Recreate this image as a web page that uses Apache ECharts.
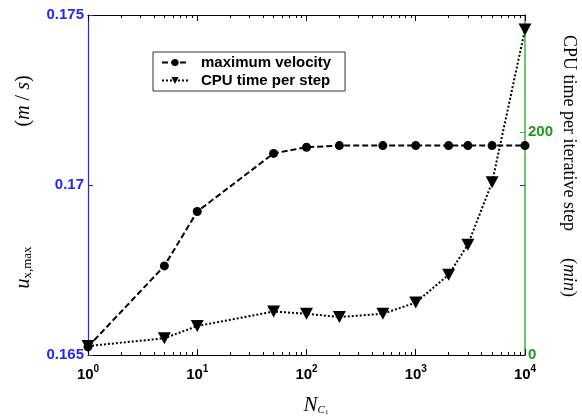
<!DOCTYPE html>
<html>
<head>
<meta charset="utf-8">
<script src="https://cdn.jsdelivr.net/npm/echarts@6/dist/echarts.min.js"></script>
<style>
  html, body { margin: 0; padding: 0; background: #fff; }
  #chart { width: 582px; height: 419px; }
</style>
</head>
<body>
<div id="chart"></div>
<script>
// Number of cells N_C1 (log scale)
const nCells = [1, 5, 10, 50, 100, 200, 500, 1000, 2000, 3000, 5000, 10000];
// Maximum streamwise velocity u_x,max (m/s)
const maxVelocity = [0.16524, 0.16762, 0.16922, 0.17093, 0.17111, 0.17116, 0.17116, 0.17116, 0.17116, 0.17116, 0.17116, 0.17116];
// CPU time per iterative step (min)
const cpuTime = [8, 15, 26, 39, 37, 34, 37, 47, 72, 99, 155, 292];

const decadeTicks = [1, 10, 100, 1000, 10000];
const minorLogTicks = [];
[1, 10, 100, 1000].forEach(function (d) {
  for (let k = 2; k <= 9; k++) minorLogTicks.push(k * d);
});
const leftTicks = [0.165, 0.17, 0.175];
const rightLabelTicks = [0, 200];

const blue = '#2424ff';
const green = '#3db23d';
const greenText = '#1e9a1e';
const serif = 'Liberation Serif, Times New Roman';
const sans = 'Arial, Liberation Sans';
const downTriangle = 'path://M0,0 L10,0 L5,9 Z';

const chart = echarts.init(document.getElementById('chart'), null, { renderer: 'canvas' });

function logAxis(position, ticks, len, showLabel, showLine) {
  return {
    type: 'log', logBase: 10, min: 1, max: 10000, position: position,
    axisLine: { show: showLine, onZero: false, lineStyle: { color: '#000', width: 1 } },
    axisTick: { show: true, inside: true, length: len, customValues: ticks, lineStyle: { color: '#000', width: 1 } },
    axisLabel: showLabel ? {
      show: true, margin: 9, customValues: decadeTicks,
      formatter: function (v) { return '{b|10}{s|' + Math.round(Math.log10(v)) + '}'; },
      rich: {
        b: { fontFamily: sans, fontWeight: 'bold', fontSize: 15, color: '#000', verticalAlign: 'bottom', lineHeight: 18 },
        s: { fontFamily: sans, fontWeight: 'bold', fontSize: 10, color: '#000', verticalAlign: 'top', lineHeight: 18, padding: [0, 0, 6, 0] }
      }
    } : { show: false },
    splitLine: { show: false }
  };
}

const option = {
  animation: false,
  backgroundColor: '#fff',
  grid: { left: 88, right: 57, top: 15, bottom: 64, containLabel: false },
  legend: {
    left: 153, top: 52, orient: 'vertical',
    itemWidth: 26, itemHeight: 9, itemGap: 3,
    padding: [3, 14, 3, 8],
    borderColor: '#333', borderWidth: 1,
    textStyle: { fontFamily: sans, fontWeight: 'bold', fontSize: 15, color: '#000', padding: [0, 0, 0, 8] },
    data: ['maximum velocity', 'CPU time per step']
  },
  xAxis: [
    logAxis('bottom', decadeTicks, 6, true, true),
    logAxis('bottom', minorLogTicks, 3, false, false),
    logAxis('top', decadeTicks, 6, false, true),
    logAxis('top', minorLogTicks, 3, false, false)
  ],
  yAxis: [
    {
      type: 'value', position: 'left', min: 0.165, max: 0.175, interval: 0.005,
      axisLine: { show: true, lineStyle: { color: blue, width: 1.2 } },
      axisTick: { show: true, inside: true, length: 5, lineStyle: { color: blue } },
      axisLabel: {
        color: blue, fontFamily: sans, fontWeight: 'bold', fontSize: 15, margin: 4,
        customValues: leftTicks,
        formatter: function (v) { return String(+v.toFixed(3)); }
      },
      splitLine: { show: false }
    },
    {
      type: 'value', position: 'right', min: 0, max: 305,
      axisLine: { show: true, lineStyle: { color: green, width: 1.5 } },
      axisTick: { show: true, inside: true, length: 5, customValues: [200], lineStyle: { color: green } },
      axisLabel: {
        color: greenText, fontFamily: sans, fontWeight: 'bold', fontSize: 15, margin: 3,
        customValues: rightLabelTicks
      },
      splitLine: { show: false }
    },
    {
      // mirrored velocity tick on the right border
      type: 'value', position: 'right', min: 0.165, max: 0.175,
      axisLine: { show: false },
      axisTick: { show: true, inside: true, length: 5, customValues: [0.17], lineStyle: { color: blue } },
      axisLabel: { show: false },
      splitLine: { show: false }
    }
  ],
  series: [
    {
      name: 'maximum velocity', type: 'line', xAxisIndex: 0, yAxisIndex: 0,
      data: nCells.map(function (n, i) { return [n, maxVelocity[i]]; }),
      symbol: 'circle', symbolSize: 9,
      lineStyle: { color: '#000', width: 2, type: [6, 3] },
      itemStyle: { color: '#000' },
      z: 3
    },
    {
      name: 'CPU time per step', type: 'line', xAxisIndex: 0, yAxisIndex: 1,
      data: nCells.map(function (n, i) { return [n, cpuTime[i]]; }),
      symbol: downTriangle, symbolSize: [13, 12],
      lineStyle: { color: '#000', width: 2, type: [2, 2] },
      itemStyle: { color: '#000' },
      z: 3
    }
  ],
  graphic: [
    {
      type: 'text', x: 22, y: 182, rotation: Math.PI / 2,
      style: {
        text: '{i|u}{sub|x,max}{n|                        (}{i|m}{n| / }{i|s}{n|)}',
        align: 'center', verticalAlign: 'middle',
        rich: {
          i: { fontFamily: serif, fontStyle: 'italic', fontSize: 20, fill: '#000', verticalAlign: 'bottom', lineHeight: 24 },
          n: { fontFamily: serif, fontSize: 20, fill: '#000', verticalAlign: 'bottom', lineHeight: 24 },
          sub: { fontFamily: serif, fontSize: 13, fill: '#000', verticalAlign: 'bottom', lineHeight: 24, padding: [6, 0, 0, 0] }
        }
      }
    },
    {
      type: 'text', x: 569, y: 166, rotation: -Math.PI / 2,
      style: {
        text: '{n|CPU time per iterative step      (}{i|min}{n|)}',
        align: 'center', verticalAlign: 'middle',
        rich: {
          i: { fontFamily: serif, fontStyle: 'italic', fontSize: 18, fill: '#000' },
          n: { fontFamily: serif, fontSize: 18, fill: '#000' }
        }
      }
    },
    {
      type: 'text', x: 316, y: 403,
      style: {
        text: '{i|N}{sub|C}{sub2|1}',
        align: 'center', verticalAlign: 'middle',
        rich: {
          i: { fontFamily: serif, fontStyle: 'italic', fontSize: 21, fill: '#000', verticalAlign: 'bottom', lineHeight: 26 },
          sub: { fontFamily: serif, fontStyle: 'italic', fontSize: 11, fill: '#000', verticalAlign: 'bottom', lineHeight: 26 },
          sub2: { fontFamily: serif, fontSize: 7, fill: '#000', verticalAlign: 'bottom', lineHeight: 24 }
        }
      }
    }
  ]
};

chart.setOption(option);
</script>
</body>
</html>
